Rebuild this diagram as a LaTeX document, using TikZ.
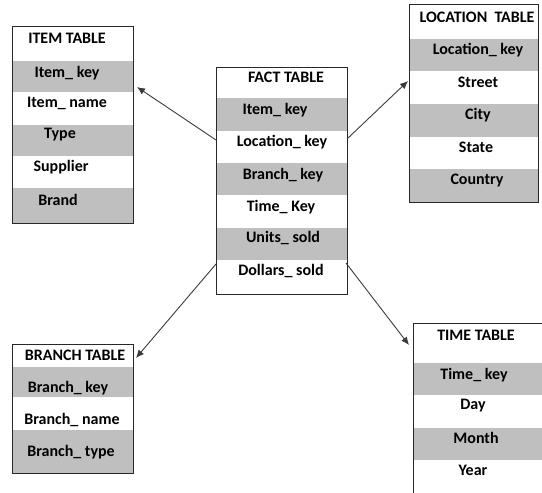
\documentclass[tikz,border=0pt]{standalone}
\usepackage{fontspec}
\setmainfont{Carlito}
\usetikzlibrary{arrows.meta}
\definecolor{rowgrey}{RGB}{191,191,191}
\definecolor{edge}{RGB}{40,40,40}
\definecolor{arr}{RGB}{60,60,60}
\tikzset{
  x=1pt, y=-1pt,
  lbl/.style={font=\bfseries\fontsize{16}{18}\selectfont, inner sep=0pt, anchor=center},
  grey/.style={fill=rowgrey, draw=none},
  frame/.style={draw=edge, line width=1pt},
  conn/.style={draw=arr, line width=0.9pt, -{Latex[length=8pt,width=7pt]}},
}
\begin{document}
\begin{tikzpicture}
\useasboundingbox (0,0) rectangle (542,493);
% ITEM TABLE
\fill[grey] (12,61) rectangle (133,92);
\fill[grey] (12,125) rectangle (133,156);
\fill[grey] (12,188) rectangle (133,223);
\draw[frame] (12,26) rectangle (133,223);
\node[lbl] (i0) at (67,38) {ITEM TABLE};
\node[lbl] (i1) at (67,73) {Item\_ key};
\node[lbl] (i2) at (67,103) {Item\_ name};
\node[lbl] (i3) at (60,135) {Type};
\node[lbl] (i4) at (61,167) {Supplier};
\node[lbl] (i5) at (58,200) {Brand};
% FACT TABLE
\fill[grey] (216,98) rectangle (347,131);
\fill[grey] (216,163) rectangle (347,195);
\fill[grey] (216,228) rectangle (347,260);
\draw[frame] (216,67) rectangle (347,294);
\node[lbl] (f0) at (286,77) {FACT TABLE};
\node[lbl] (f1) at (275,110) {Item\_ key};
\node[lbl] (f2) at (282,142) {Location\_ key};
\node[lbl] (f3) at (283,175) {Branch\_ key};
\node[lbl] (f4) at (281,207) {Time\_ Key};
\node[lbl] (f5) at (283,238) {Units\_ sold};
\node[lbl] (f6) at (281,271) {Dollars\_ sold};
% LOCATION TABLE
\fill[grey] (409,39) rectangle (538,71);
\fill[grey] (409,104) rectangle (538,137);
\fill[grey] (409,169) rectangle (538,202);
\draw[frame] (409,4) rectangle (538,202);
\node[lbl] (l0) at (477,17) {LOCATION\ \ TABLE};
\node[lbl] (l1) at (478,50) {Location\_ key};
\node[lbl] (l2) at (478,82) {Street};
\node[lbl] (l3) at (478,115) {City};
\node[lbl] (l4) at (476,147) {State};
\node[lbl] (l5) at (477,181) {Country};
% BRANCH TABLE
\fill[grey] (12,367) rectangle (133,397);
\fill[grey] (12,430) rectangle (133,473);
\draw[frame] (12,344) rectangle (133,473);
\node[lbl] (b0) at (75,355) {BRANCH TABLE};
\node[lbl] (b1) at (68,388) {Branch\_ key};
\node[lbl] (b2) at (72,420) {Branch\_ name};
\node[lbl] (b3) at (71,452) {Branch\_ type};
% TIME TABLE
\fill[grey] (413,363) rectangle (545,395);
\fill[grey] (413,428) rectangle (545,460);
\draw[frame] (413,496) -- (413,323) -- (545,323);
\node[lbl] (t0) at (476,335) {TIME TABLE};
\node[lbl] (t1) at (474,375) {Time\_ key};
\node[lbl] (t2) at (473,406) {Day};
\node[lbl] (t3) at (476,438) {Month};
\node[lbl] (t4) at (473,470) {Year};
% connectors
\coordinate (fi) at (216,140);
\coordinate (ti) at (137,87);
\coordinate (fl) at (347,139);
\coordinate (tl) at (408,81);
\coordinate (fb) at (216,264);
\coordinate (tb) at (136,358);
\coordinate (ft) at (346,263);
\coordinate (tt) at (409,345);
\draw[conn] (fi) -- (ti);
\draw[conn] (fl) -- (tl);
\draw[conn] (fb) -- (tb);
\draw[conn] (ft) -- (tt);
\end{tikzpicture}
\end{document}
